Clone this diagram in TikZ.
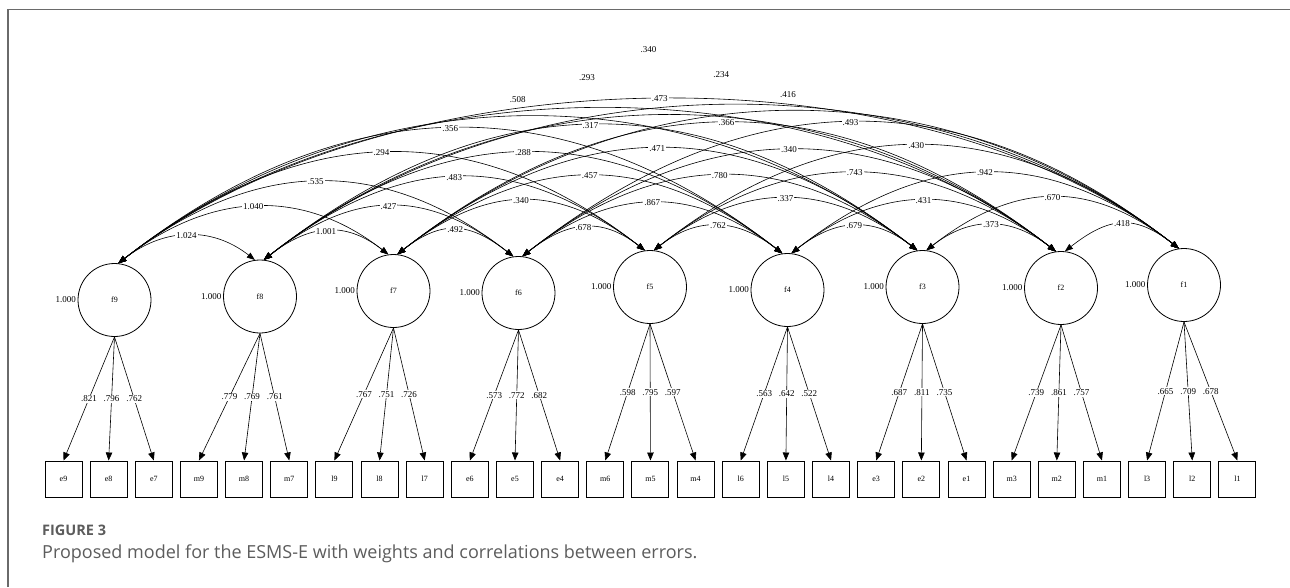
\documentclass[tikz,border=0pt]{standalone}
\usepackage{fontspec}
\setmainfont{Liberation Serif}
\newfontfamily\capfont{Open Sans}
\usetikzlibrary{positioning,calc,arrows.meta}
\definecolor{FrameGray}{HTML}{6A6A6A}
\definecolor{CapGray}{HTML}{5C5C5C}

\def\corrlist{f9/f8/1.024/1, f8/f7/1.001/1, f7/f6/.492/1, f6/f5/.678/1, f5/f4/.762/1, f4/f3/.679/1, f3/f2/.373/1, f2/f1/.418/1,
  f9/f7/1.040/2, f8/f6/.427/2, f7/f5/.340/2, f6/f4/.867/2, f5/f3/.337/2, f4/f2/.431/2, f3/f1/.670/2,
  f9/f6/.535/3, f8/f5/.483/3, f7/f4/.457/3, f6/f3/.780/3, f5/f2/.743/3, f4/f1/.942/3,
  f9/f5/.294/4, f8/f4/.288/4, f7/f3/.471/4, f6/f2/.340/4, f5/f1/.430/4,
  f9/f4/.356/5, f8/f3/.317/5, f7/f2/.366/5, f6/f1/.493/5,
  f9/f3/.508/6, f8/f2/.473/6, f7/f1/.416/6,
  f9/f2/.293/7, f8/f1/.234/7,
  f9/f1/.340/8}

\begin{document}
\begin{tikzpicture}[x=1pt, y=-1pt,
  factor/.style={circle, draw, line width=0.8pt, minimum size=73pt, inner sep=0pt, font=\fontsize{8}{9}\selectfont},
  item/.style={rectangle, draw, line width=1pt, minimum width=37pt, minimum height=36pt, inner sep=0pt, font=\fontsize{8}{9}\selectfont},
  val/.style={fill=white, inner sep=1pt, font=\fontsize{9}{10}\selectfont},
  var/.style={inner sep=0.5pt, font=\fontsize{9}{10}\selectfont},
  load/.style={-{Triangle[length=8pt,width=6.5pt]}, line width=0.6pt},
  corr/.style={{Triangle[length=8pt,width=6pt]}-{Triangle[length=8pt,width=6pt]}, line width=0.6pt},
  caption/.style={anchor=base west, inner sep=0pt, text=CapGray}
]
  \useasboundingbox (0,0) rectangle (1290,587);
  \draw[FrameGray, line width=1.3pt] (8,587) -- (8,9.5) -- (1290,9.5);

  % Factors
  \foreach \f/\x/\y in {f9/114.5/300, f8/260/296.5, f7/393.5/291, f6/518.5/293, f5/650/287,
                        f4/787.5/290, f3/922.5/287, f2/1061/288, f1/1184/285}
  {
    \node[factor] (\f) at (\x,\y) {\f};
    \node[var, left=1pt of \f] (v-\f) {1.000};
  }

  % Items
  \foreach \nm [count=\i from 0] in {e9,e8,e7,m9,m8,m7,l9,l8,l7,e6,e5,e4,m6,m5,m4,l6,l5,l4,e3,e2,e1,m3,m2,m1,l3,l2,l1}
    \node[item] (\nm) at ({63.5+45.15*\i},479) {\nm};

  % Loadings
  \foreach \f/\a/\b/\c/\la/\lb/\lc in {f9/e9/e8/e7/.821/.796/.762, f8/m9/m8/m7/.779/.769/.761,
      f7/l9/l8/l7/.767/.751/.726, f6/e6/e5/e4/.573/.772/.682, f5/m6/m5/m4/.598/.795/.597,
      f4/l6/l5/l4/.563/.642/.522, f3/e3/e2/e1/.687/.811/.735, f2/m3/m2/m1/.739/.861/.757,
      f1/l3/l2/l1/.665/.709/.678}
  {
    \draw[load] (\f.south) -- node[val] (w-\a) {\la} (\a.north);
    \draw[load] (\f.south) -- node[val] (w-\b) {\lb} (\b.north);
    \draw[load] (\f.south) -- node[val] (w-\c) {\lc} (\c.north);
  }

  % Correlations
  \foreach \p/\q/\r/\d in \corrlist
  {
    \pgfmathsetmacro\cd{{56.3,112.6,168.9,225.2,281.5,303,322,339}[\d-1]}
    \pgfmathsetmacro\ys{{0,0,0,0,0,17,31,50}[\d-1]}
    \draw[corr] (\p.84) .. controls ($(\p.84)+(38:\cd pt)$) and ($(\q.98)+(142:\cd pt)$) ..
      coordinate[pos=0.5, yshift=\ys pt] (c-\p-\q) (\q.98);
  }
  \foreach \p/\q/\r/\d in \corrlist
    \node[val] (r-\p-\q) at (c-\p-\q) {\r};

  % Caption
  \node[caption, font=\capfont\bfseries\fontsize{14.5}{16}\selectfont] (fig) at (42,535) {FIGURE 3};
  \node[caption, font=\capfont\fontsize{18}{20}\selectfont] (capt) at (42,558)
    {Proposed model for the ESMS-E with weights and correlations between errors.};
\end{tikzpicture}
\end{document}
